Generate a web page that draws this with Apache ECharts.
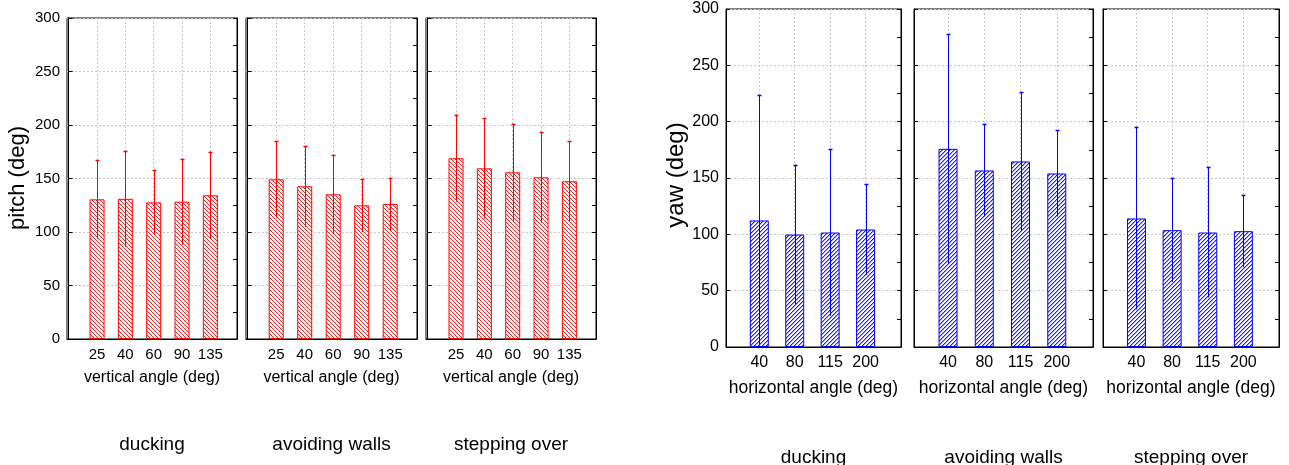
<!DOCTYPE html>
<html><head><meta charset="utf-8">
<script src="https://cdn.jsdelivr.net/npm/echarts@6/dist/echarts.min.js"></script>
<style>html,body{margin:0;padding:0;background:#fff}#c{width:1289px;height:465px}</style>
</head><body><div id="c"></div>
<script>
// ---- data ----
const pitchCategories = ['25', '40', '60', '90', '135'];
const yawCategories = ['40', '80', '115', '200'];
const groupNames = ['ducking', 'avoiding walls', 'stepping over'];
const yTicks = [0, 50, 100, 150, 200, 250, 300];

const pitchDuckingMean = [130.5, 131.0, 127.7, 128.3, 134.3];
const pitchDuckingSd   = [36.8, 45.0, 30.5, 40.2, 40.8];
const pitchWallsMean   = [149.2, 142.7, 135.2, 124.9, 126.2];
const pitchWallsSd     = [35.8, 38.0, 37.0, 24.9, 24.5];
const pitchSteppingMean = [168.9, 159.5, 155.8, 151.1, 147.4];
const pitchSteppingSd   = [40.7, 46.8, 45.4, 42.4, 37.4];

const yawDuckingMean = [112.3, 99.8, 101.6, 104.3];
const yawDuckingSd   = [111.0, 62.0, 73.8, 40.2];
const yawWallsMean   = [175.9, 156.7, 164.7, 154.0];
const yawWallsSd     = [101.9, 40.9, 61.8, 38.2];
const yawSteppingMean = [114.1, 103.7, 101.6, 102.8];
const yawSteppingSd   = [80.8, 45.9, 57.8, 32.0];

// ---- styling helpers ----
const FONT = 'Liberation Sans, Arial, sans-serif';
function hatch(color, soft, back) {
  const n = 4;
  const c = document.createElement('canvas');
  c.width = n; c.height = n;
  const g = c.getContext('2d');
  g.fillStyle = '#ffffff'; g.fillRect(0, 0, n, n);
  for (let k = 0; k < n; k++) {
    const x = back ? k : n - 1 - k;
    if (soft) { g.fillStyle = soft; g.fillRect((x + 1) % n, k, 1, 1); }
    g.fillStyle = color; g.fillRect(x, k, 1, 1);
  }
  return c;
}
const redHatch = hatch('#ff2020', null, true);
const blueHatch = hatch('#1a1aff', '#9c9cff', false);

const panels = [
  {grid: {left: 67, top: 18, width: 170, height: 321}, cats: pitchCategories, mean: pitchDuckingMean, sd: pitchDuckingSd, color: '#ff0000', pat: redHatch, xmin: -0.06, xmax: 5.94, bw: 15, first: true, xname: 'vertical angle (deg)', fs: 15, nfs: 16, gap: 31},
  {grid: {left: 246, top: 18, width: 171, height: 321}, cats: pitchCategories, mean: pitchWallsMean, sd: pitchWallsSd, color: '#ff0000', pat: redHatch, xmin: -0.06, xmax: 5.94, bw: 15, first: false, xname: 'vertical angle (deg)', fs: 15, nfs: 16, gap: 31},
  {grid: {left: 426, top: 18, width: 170, height: 321}, cats: pitchCategories, mean: pitchSteppingMean, sd: pitchSteppingSd, color: '#ff0000', pat: redHatch, xmin: -0.06, xmax: 5.94, bw: 15, first: false, xname: 'vertical angle (deg)', fs: 15, nfs: 16, gap: 31},
  {grid: {left: 726, top: 9, width: 175, height: 338}, cats: yawCategories, mean: yawDuckingMean, sd: yawDuckingSd, color: '#0000ff', pat: blueHatch, xmin: 0.06, xmax: 5.0, bw: 19, first: true, xname: 'horizontal angle (deg)', fs: 16, nfs: 17.5, gap: 32},
  {grid: {left: 914, top: 9, width: 179, height: 338}, cats: yawCategories, mean: yawWallsMean, sd: yawWallsSd, color: '#0000ff', pat: blueHatch, xmin: 0.06, xmax: 5.0, bw: 19, first: false, xname: 'horizontal angle (deg)', fs: 16, nfs: 17.5, gap: 32},
  {grid: {left: 1103, top: 9, width: 176, height: 338}, cats: yawCategories, mean: yawSteppingMean, sd: yawSteppingSd, color: '#0000ff', pat: blueHatch, xmin: 0.06, xmax: 5.0, bw: 19, first: false, xname: 'horizontal angle (deg)', fs: 16, nfs: 17.5, gap: 32}
];

const grid = [], xAxis = [], yAxis = [], series = [];
panels.forEach((p, i) => {
  grid.push(Object.assign({show: true, borderColor: '#000', borderWidth: 1, backgroundColor: '#fff'}, p.grid));
  const idx = p.cats.map((c, k) => k + 1);
  xAxis.push({
    type: 'value', gridIndex: i, min: p.xmin, max: p.xmax,
    name: p.xname, nameLocation: 'middle', nameGap: p.gap,
    nameTextStyle: {fontFamily: FONT, fontSize: p.nfs, color: '#000'},
    axisLine: {show: true, lineStyle: {color: '#000', width: 1}},
    axisTick: {show: false, customValues: idx},
    axisLabel: {customValues: idx, fontFamily: FONT, fontSize: p.fs, color: '#000', margin: 8,
      formatter: v => p.cats[Math.round(v) - 1] || ''},
    splitLine: {show: true, lineStyle: {color: '#c8c8c8', type: [2, 2], width: 1}}
  });
  yAxis.push({
    type: 'value', gridIndex: i, min: yTicks[0], max: yTicks[yTicks.length - 1], interval: yTicks[1] - yTicks[0],
    axisLine: {show: true, lineStyle: {color: '#000', width: 1}},
    axisTick: {show: true, inside: true, length: 4, lineStyle: {color: '#000'}},
    axisLabel: {show: p.first, fontFamily: FONT, fontSize: p.fs, color: '#000', margin: 7},
    splitLine: {show: true, lineStyle: {color: '#c8c8c8', type: [2, 2], width: 1}}
  });
  yAxis.push({
    type: 'value', gridIndex: i, position: 'right', min: yTicks[0], max: yTicks[yTicks.length - 1], interval: (yTicks[1] - yTicks[0]) / 2,
    axisLine: {show: true, lineStyle: {color: '#000', width: 1}},
    axisTick: {show: true, inside: true, length: 4, lineStyle: {color: '#000'}},
    axisLabel: {show: false},
    splitLine: {show: false}
  });
  series.push({
    type: 'bar', xAxisIndex: i, yAxisIndex: 2 * i, barWidth: p.bw,
    data: p.mean.map((m, k) => [k + 1, m]),
    itemStyle: {color: {image: p.pat, repeat: 'repeat'}, borderColor: p.color, borderWidth: 1},
    silent: true, animation: false
  });
  series.push({
    type: 'custom', xAxisIndex: i, yAxisIndex: 2 * i, silent: true, animation: false, z: 5,
    data: p.mean.map((m, k) => [k + 1, Math.max(0, m - p.sd[k]), m + p.sd[k]]),
    renderItem: (params, api) => {
      const lo = api.coord([api.value(0), api.value(1)]);
      const hi = api.coord([api.value(0), api.value(2)]);
      const x = Math.round(lo[0]) + 0.5;
      return {type: 'group', children: [
        {type: 'line', shape: {x1: x, y1: lo[1], x2: x, y2: hi[1]}, style: {stroke: p.color, lineWidth: 1}},
        {type: 'line', shape: {x1: x - 2, y1: Math.round(hi[1]) + 0.5, x2: x + 2, y2: Math.round(hi[1]) + 0.5}, style: {stroke: p.color, lineWidth: 1.5}}
      ]};
    }
  });
});

const graphic = [
  {type: 'text', x: 18, y: 178, rotation: Math.PI / 2, style: {text: 'pitch (deg)', font: '22px ' + FONT, fill: '#000', align: 'center', verticalAlign: 'middle'}},
  {type: 'text', x: 676, y: 175, rotation: Math.PI / 2, style: {text: 'yaw (deg)', font: '24px ' + FONT, fill: '#000', align: 'center', verticalAlign: 'middle'}}
];
const groupX = [[152, 331.5, 511], [813.5, 1003.5, 1191]];
const groupY = [445, 458];
groupNames.forEach((g, k) => {
  [0, 1].forEach(s => graphic.push({type: 'text', x: groupX[s][k], y: groupY[s],
    style: {text: g, font: '19px ' + FONT, fill: '#000', align: 'center', verticalAlign: 'middle'}}));
});

const chart = echarts.init(document.getElementById('c'));
chart.setOption({backgroundColor: '#fff', animation: false, grid, xAxis, yAxis, series, graphic});
</script></body></html>
